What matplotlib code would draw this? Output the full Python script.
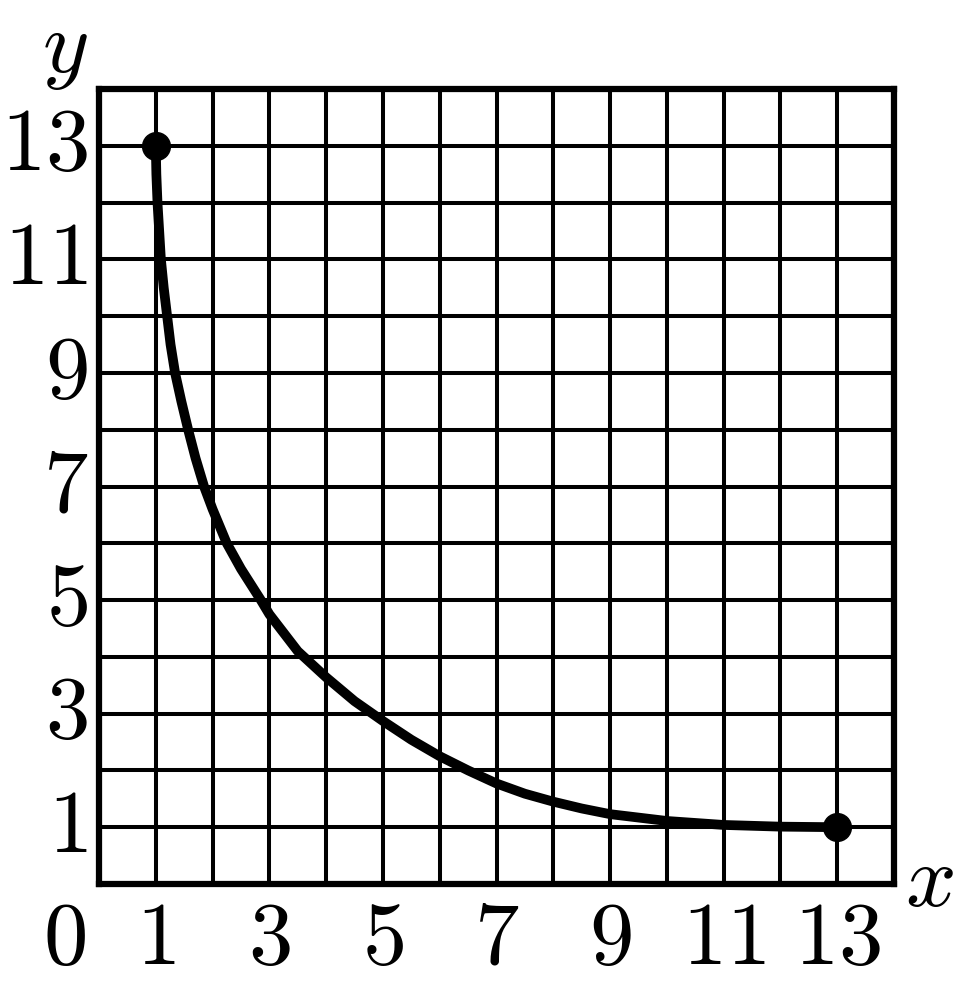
import matplotlib
matplotlib.use("Agg")
import matplotlib.pyplot as plt

plt.rcParams['mathtext.fontset'] = 'cm'
plt.rcParams['font.family'] = 'serif'
plt.rcParams['font.serif'] = ['DejaVu Serif']

# curve
curve_x = [1, 1.01, 1.03, 1.06, 1.09, 1.14, 1.20, 1.26, 1.34, 1.45, 1.57, 1.70, 1.85,
           2, 2.25, 2.5, 2.85, 3, 3.5, 4, 4.5, 5, 5.5, 6, 6.5, 7, 7.5, 8, 8.5, 9,
           10, 11, 12, 13]
curve_y = [13, 12.5, 12, 11.5, 11, 10.5, 10, 9.5, 9, 8.5, 8, 7.5, 7,
           6.6, 6, 5.55, 5, 4.75, 4.1, 3.64, 3.22, 2.87, 2.54, 2.25, 2.0, 1.77, 1.59, 1.45, 1.33, 1.23,
           1.11, 1.04, 1.01, 1]
end_x = [1, 13]
end_y = [13, 1]
ticks = [1, 3, 5, 7, 9, 11, 13]

fig = plt.figure(figsize=(9.57, 9.81), dpi=100)
ax = fig.add_axes([99/957, 97/981, 795/957, 795/981])
ax.set_xlim(0, 14)
ax.set_ylim(0, 14)

ax.set_xticks(range(15))
ax.set_yticks(range(15))
ax.grid(True, color='black', linewidth=2.9)
ax.set_axisbelow(True)
for s in ax.spines.values():
    s.set_linewidth(4.5)
ax.tick_params(length=0, labelbottom=False, labelleft=False)

ax.plot(curve_x, curve_y, color='black', lw=7, solid_capstyle='round', solid_joinstyle='round')
ax.plot(end_x, end_y, 'o', color='black', ms=20)

fs = 64
for t in ticks:
    ax.text(t, -0.2, '$%d$' % t, ha='center', va='top', fontsize=fs)
    ax.text(-0.2, t, '$%d$' % t, ha='right', va='center', fontsize=fs)
ax.text(-0.6, -0.2, '$0$', ha='center', va='top', fontsize=fs)
ax.text(14.2, 0.05, '$x$', ha='left', va='center', fontsize=fs)
ax.text(-0.6, 13.95, '$y$', ha='center', va='bottom', fontsize=fs)

fig.savefig('out.png', dpi=100)
